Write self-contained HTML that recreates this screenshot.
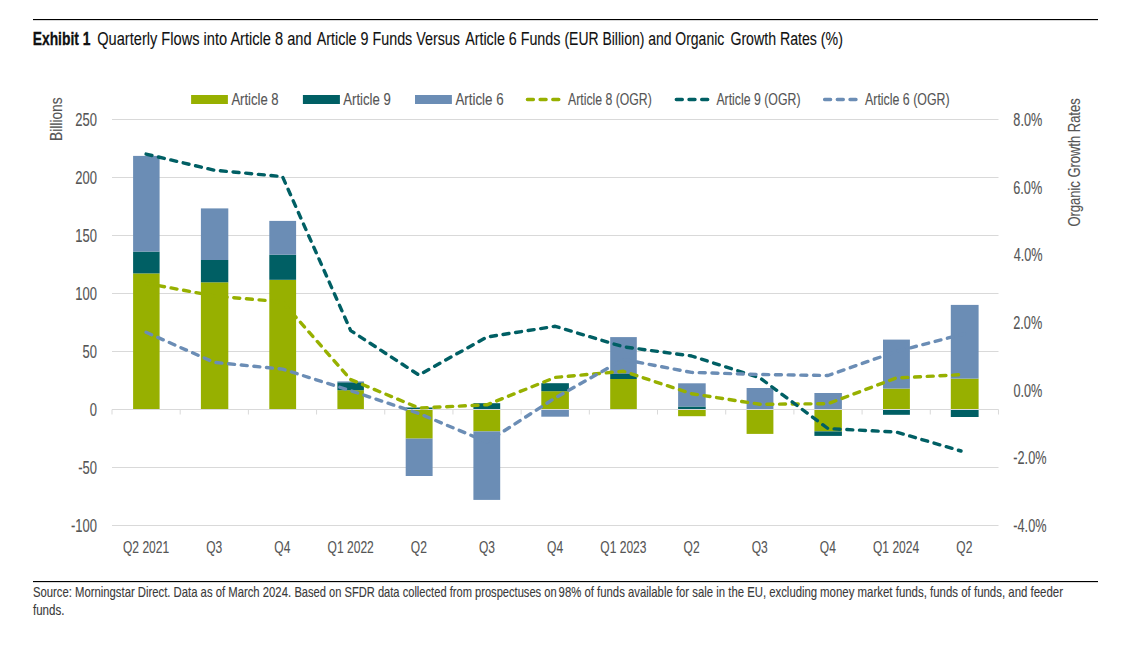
<!DOCTYPE html>
<html><head><meta charset="utf-8"><style>
html,body{margin:0;padding:0;background:#fff;width:1127px;height:645px;overflow:hidden}
svg{display:block}
text{font-family:"Liberation Sans",sans-serif}
</style></head><body>
<svg width="1127" height="645" viewBox="0 0 1127 645">
<rect width="1127" height="645" fill="#fff"/>
<rect x="33" y="19" width="1065" height="1.15" fill="#000"/>
<text x="32.70" y="44.8" font-size="18.7" fill="#111" stroke="#111" stroke-width="0.3" font-weight="bold" textLength="57.78" lengthAdjust="spacingAndGlyphs" >Exhibit 1</text>
<text x="97.24" y="44.8" font-size="18.7" fill="#111" stroke="#111" stroke-width="0.12" font-weight="normal" textLength="214.35" lengthAdjust="spacingAndGlyphs" >Quarterly Flows into Article 8 and</text>
<text x="316.80" y="44.8" font-size="18.7" fill="#111" stroke="#111" stroke-width="0.12" font-weight="normal" textLength="143.20" lengthAdjust="spacingAndGlyphs" >Article 9 Funds Versus</text>
<text x="465.20" y="44.8" font-size="18.7" fill="#111" stroke="#111" stroke-width="0.12" font-weight="normal" textLength="95.19" lengthAdjust="spacingAndGlyphs" >Article 6 Funds</text>
<text x="564.46" y="44.8" font-size="18.7" fill="#111" stroke="#111" stroke-width="0.12" font-weight="normal" textLength="159.77" lengthAdjust="spacingAndGlyphs" >(EUR Billion) and Organic</text>
<text x="730.39" y="44.8" font-size="18.7" fill="#111" stroke="#111" stroke-width="0.12" font-weight="normal" textLength="112.48" lengthAdjust="spacingAndGlyphs" >Growth Rates (%)</text>
<line x1="112" y1="119.5" x2="998.5" y2="119.5" stroke="#d9d9d9" stroke-width="1"/>
<line x1="112" y1="177.5" x2="998.5" y2="177.5" stroke="#d9d9d9" stroke-width="1"/>
<line x1="112" y1="235.5" x2="998.5" y2="235.5" stroke="#d9d9d9" stroke-width="1"/>
<line x1="112" y1="293.5" x2="998.5" y2="293.5" stroke="#d9d9d9" stroke-width="1"/>
<line x1="112" y1="351.5" x2="998.5" y2="351.5" stroke="#d9d9d9" stroke-width="1"/>
<line x1="112" y1="467.5" x2="998.5" y2="467.5" stroke="#d9d9d9" stroke-width="1"/>
<line x1="112" y1="525.5" x2="998.5" y2="525.5" stroke="#d9d9d9" stroke-width="1"/>
<text x="75.35" y="125.7" font-size="17.6" fill="#555555" stroke="#555555" stroke-width="0.12" font-weight="normal" textLength="21.65" lengthAdjust="spacingAndGlyphs" >250</text>
<text x="75.35" y="183.7" font-size="17.6" fill="#555555" stroke="#555555" stroke-width="0.12" font-weight="normal" textLength="21.65" lengthAdjust="spacingAndGlyphs" >200</text>
<text x="75.35" y="241.7" font-size="17.6" fill="#555555" stroke="#555555" stroke-width="0.12" font-weight="normal" textLength="21.65" lengthAdjust="spacingAndGlyphs" >150</text>
<text x="75.35" y="299.7" font-size="17.6" fill="#555555" stroke="#555555" stroke-width="0.12" font-weight="normal" textLength="21.65" lengthAdjust="spacingAndGlyphs" >100</text>
<text x="82.55" y="357.7" font-size="17.6" fill="#555555" stroke="#555555" stroke-width="0.12" font-weight="normal" textLength="14.43" lengthAdjust="spacingAndGlyphs" >50</text>
<text x="89.75" y="415.7" font-size="17.6" fill="#555555" stroke="#555555" stroke-width="0.12" font-weight="normal" textLength="7.22" lengthAdjust="spacingAndGlyphs" >0</text>
<text x="78.21" y="473.7" font-size="17.6" fill="#555555" stroke="#555555" stroke-width="0.12" font-weight="normal" textLength="18.75" lengthAdjust="spacingAndGlyphs" >-50</text>
<text x="71.00" y="531.7" font-size="17.6" fill="#555555" stroke="#555555" stroke-width="0.12" font-weight="normal" textLength="25.97" lengthAdjust="spacingAndGlyphs" >-100</text>
<text x="1013.33" y="125.9" font-size="17.6" fill="#555555" stroke="#555555" stroke-width="0.12" font-weight="normal" textLength="28.91" lengthAdjust="spacingAndGlyphs" >8.0%</text>
<text x="1013.27" y="193.5666666666667" font-size="17.6" fill="#555555" stroke="#555555" stroke-width="0.12" font-weight="normal" textLength="28.91" lengthAdjust="spacingAndGlyphs" >6.0%</text>
<text x="1013.65" y="261.23333333333335" font-size="17.6" fill="#555555" stroke="#555555" stroke-width="0.12" font-weight="normal" textLength="28.91" lengthAdjust="spacingAndGlyphs" >4.0%</text>
<text x="1013.27" y="328.9" font-size="17.6" fill="#555555" stroke="#555555" stroke-width="0.12" font-weight="normal" textLength="28.91" lengthAdjust="spacingAndGlyphs" >2.0%</text>
<text x="1013.39" y="396.56666666666666" font-size="17.6" fill="#555555" stroke="#555555" stroke-width="0.12" font-weight="normal" textLength="28.91" lengthAdjust="spacingAndGlyphs" >0.0%</text>
<text x="1013.33" y="464.23333333333335" font-size="17.6" fill="#555555" stroke="#555555" stroke-width="0.12" font-weight="normal" textLength="33.13" lengthAdjust="spacingAndGlyphs" >-2.0%</text>
<text x="1013.33" y="531.9" font-size="17.6" fill="#555555" stroke="#555555" stroke-width="0.12" font-weight="normal" textLength="33.13" lengthAdjust="spacingAndGlyphs" >-4.0%</text>
<text x="-1.10" y="0" font-size="17" fill="#555555" stroke="#555555" stroke-width="0.12" textLength="43.45" lengthAdjust="spacingAndGlyphs" transform="translate(62.3,139.8) rotate(-90)">Billions</text>
<text x="-0.58" y="0" font-size="17" fill="#555555" stroke="#555555" stroke-width="0.12" textLength="128.21" lengthAdjust="spacingAndGlyphs" transform="translate(1079.5,226) rotate(-90)">Organic Growth Rates</text>
<rect x="133.10" y="273.40" width="26.50" height="136.10" fill="#97b000"/>
<rect x="133.10" y="251.60" width="26.50" height="21.80" fill="#005f64"/>
<rect x="133.10" y="155.90" width="26.50" height="95.70" fill="#6b8db5"/>
<rect x="200.90" y="282.30" width="27.40" height="127.20" fill="#97b000"/>
<rect x="200.90" y="260.00" width="27.40" height="22.30" fill="#005f64"/>
<rect x="200.90" y="208.40" width="27.40" height="51.60" fill="#6b8db5"/>
<rect x="269.30" y="279.80" width="26.80" height="129.70" fill="#97b000"/>
<rect x="269.30" y="254.70" width="26.80" height="25.10" fill="#005f64"/>
<rect x="269.30" y="220.90" width="26.80" height="33.80" fill="#6b8db5"/>
<rect x="337.40" y="390.20" width="26.50" height="19.30" fill="#97b000"/>
<rect x="337.40" y="382.30" width="26.50" height="7.90" fill="#005f64"/>
<rect x="337.40" y="381.40" width="26.50" height="0.90" fill="#6b8db5"/>
<rect x="405.70" y="407.50" width="26.90" height="2.00" fill="#005f64"/>
<rect x="405.70" y="409.50" width="26.90" height="29.10" fill="#97b000"/>
<rect x="405.70" y="438.60" width="26.90" height="37.40" fill="#6b8db5"/>
<rect x="473.40" y="403.20" width="26.80" height="6.30" fill="#005f64"/>
<rect x="473.40" y="409.50" width="26.80" height="21.90" fill="#97b000"/>
<rect x="473.40" y="431.40" width="26.80" height="68.50" fill="#6b8db5"/>
<rect x="541.30" y="391.20" width="27.60" height="18.30" fill="#97b000"/>
<rect x="541.30" y="383.20" width="27.60" height="8.00" fill="#005f64"/>
<rect x="541.30" y="409.50" width="27.60" height="7.20" fill="#6b8db5"/>
<rect x="610.20" y="379.00" width="26.60" height="30.50" fill="#97b000"/>
<rect x="610.20" y="374.00" width="26.60" height="5.00" fill="#005f64"/>
<rect x="610.20" y="337.10" width="26.60" height="36.90" fill="#6b8db5"/>
<rect x="678.10" y="406.50" width="27.60" height="3.00" fill="#005f64"/>
<rect x="678.10" y="383.30" width="27.60" height="23.20" fill="#6b8db5"/>
<rect x="678.10" y="409.50" width="27.60" height="6.70" fill="#97b000"/>
<rect x="746.60" y="388.00" width="26.80" height="21.50" fill="#6b8db5"/>
<rect x="746.60" y="409.50" width="26.80" height="24.40" fill="#97b000"/>
<rect x="814.40" y="393.00" width="27.50" height="16.50" fill="#6b8db5"/>
<rect x="814.40" y="409.50" width="27.50" height="21.90" fill="#97b000"/>
<rect x="814.40" y="431.40" width="27.50" height="4.50" fill="#005f64"/>
<rect x="883.00" y="388.60" width="26.90" height="20.90" fill="#97b000"/>
<rect x="883.00" y="339.60" width="26.90" height="49.00" fill="#6b8db5"/>
<rect x="883.00" y="409.50" width="26.90" height="5.30" fill="#005f64"/>
<rect x="950.80" y="378.60" width="27.80" height="30.90" fill="#97b000"/>
<rect x="950.80" y="304.90" width="27.80" height="73.70" fill="#6b8db5"/>
<rect x="950.80" y="409.50" width="27.80" height="7.50" fill="#005f64"/>
<line x1="112" y1="409.5" x2="998.5" y2="409.5" stroke="#d9d9d9" stroke-width="1"/>
<line x1="112.00" y1="409.5" x2="112.00" y2="414.5" stroke="#d9d9d9" stroke-width="1"/>
<line x1="180.19" y1="409.5" x2="180.19" y2="414.5" stroke="#d9d9d9" stroke-width="1"/>
<line x1="248.38" y1="409.5" x2="248.38" y2="414.5" stroke="#d9d9d9" stroke-width="1"/>
<line x1="316.57" y1="409.5" x2="316.57" y2="414.5" stroke="#d9d9d9" stroke-width="1"/>
<line x1="384.76" y1="409.5" x2="384.76" y2="414.5" stroke="#d9d9d9" stroke-width="1"/>
<line x1="452.95" y1="409.5" x2="452.95" y2="414.5" stroke="#d9d9d9" stroke-width="1"/>
<line x1="521.14" y1="409.5" x2="521.14" y2="414.5" stroke="#d9d9d9" stroke-width="1"/>
<line x1="589.33" y1="409.5" x2="589.33" y2="414.5" stroke="#d9d9d9" stroke-width="1"/>
<line x1="657.52" y1="409.5" x2="657.52" y2="414.5" stroke="#d9d9d9" stroke-width="1"/>
<line x1="725.71" y1="409.5" x2="725.71" y2="414.5" stroke="#d9d9d9" stroke-width="1"/>
<line x1="793.90" y1="409.5" x2="793.90" y2="414.5" stroke="#d9d9d9" stroke-width="1"/>
<line x1="862.09" y1="409.5" x2="862.09" y2="414.5" stroke="#d9d9d9" stroke-width="1"/>
<line x1="930.28" y1="409.5" x2="930.28" y2="414.5" stroke="#d9d9d9" stroke-width="1"/>
<line x1="998.47" y1="409.5" x2="998.47" y2="414.5" stroke="#d9d9d9" stroke-width="1"/>
<polyline points="146.1,283.3 214.3,296.0 282.5,301.9 350.7,379.6 418.9,408.0 487.0,404.8 555.2,377.4 623.4,371.3 691.6,393.7 759.8,404.3 828.0,403.7 896.2,378.0 964.4,374.5" fill="none" stroke="#97b000" stroke-width="3.4" stroke-dasharray="6 6.7" stroke-linecap="round" stroke-linejoin="round"/>
<polyline points="146.1,154.1 214.3,170.2 282.5,176.6 350.7,330.6 418.9,375.0 487.0,337.0 555.2,326.3 623.4,346.8 691.6,356.0 759.8,377.8 828.0,428.6 896.2,432.0 961.0,451.0" fill="none" stroke="#005f64" stroke-width="3.4" stroke-dasharray="6 6.7" stroke-linecap="round" stroke-linejoin="round"/>
<polyline points="146.1,332.3 214.3,362.4 282.5,369.1 350.7,390.7 418.9,413.5 487.0,442.0 555.2,397.9 623.4,359.5 691.6,372.4 759.8,374.5 828.0,375.5 896.2,351.5 964.4,333.8" fill="none" stroke="#6b8db5" stroke-width="3.4" stroke-dasharray="6 6.7" stroke-linecap="round" stroke-linejoin="round"/>
<text x="123.00" y="552.8" font-size="17.2" fill="#555555" stroke="#555555" stroke-width="0.12" font-weight="normal" textLength="46.20" lengthAdjust="spacingAndGlyphs" >Q2 2021</text>
<text x="206.22" y="552.8" font-size="17.2" fill="#555555" stroke="#555555" stroke-width="0.12" font-weight="normal" textLength="16.06" lengthAdjust="spacingAndGlyphs" >Q3</text>
<text x="274.35" y="552.8" font-size="17.2" fill="#555555" stroke="#555555" stroke-width="0.12" font-weight="normal" textLength="16.06" lengthAdjust="spacingAndGlyphs" >Q4</text>
<text x="327.60" y="552.8" font-size="17.2" fill="#555555" stroke="#555555" stroke-width="0.12" font-weight="normal" textLength="46.20" lengthAdjust="spacingAndGlyphs" >Q1 2022</text>
<text x="410.85" y="552.8" font-size="17.2" fill="#555555" stroke="#555555" stroke-width="0.12" font-weight="normal" textLength="16.06" lengthAdjust="spacingAndGlyphs" >Q2</text>
<text x="478.98" y="552.8" font-size="17.2" fill="#555555" stroke="#555555" stroke-width="0.12" font-weight="normal" textLength="16.06" lengthAdjust="spacingAndGlyphs" >Q3</text>
<text x="547.11" y="552.8" font-size="17.2" fill="#555555" stroke="#555555" stroke-width="0.12" font-weight="normal" textLength="16.06" lengthAdjust="spacingAndGlyphs" >Q4</text>
<text x="600.30" y="552.8" font-size="17.2" fill="#555555" stroke="#555555" stroke-width="0.12" font-weight="normal" textLength="46.20" lengthAdjust="spacingAndGlyphs" >Q1 2023</text>
<text x="683.61" y="552.8" font-size="17.2" fill="#555555" stroke="#555555" stroke-width="0.12" font-weight="normal" textLength="16.06" lengthAdjust="spacingAndGlyphs" >Q2</text>
<text x="751.74" y="552.8" font-size="17.2" fill="#555555" stroke="#555555" stroke-width="0.12" font-weight="normal" textLength="16.06" lengthAdjust="spacingAndGlyphs" >Q3</text>
<text x="819.87" y="552.8" font-size="17.2" fill="#555555" stroke="#555555" stroke-width="0.12" font-weight="normal" textLength="16.06" lengthAdjust="spacingAndGlyphs" >Q4</text>
<text x="873.00" y="552.8" font-size="17.2" fill="#555555" stroke="#555555" stroke-width="0.12" font-weight="normal" textLength="46.20" lengthAdjust="spacingAndGlyphs" >Q1 2024</text>
<text x="956.37" y="552.8" font-size="17.2" fill="#555555" stroke="#555555" stroke-width="0.12" font-weight="normal" textLength="16.06" lengthAdjust="spacingAndGlyphs" >Q2</text>
<rect x="191.1" y="95" width="36.80000000000001" height="9" fill="#97b000"/>
<text x="231.40" y="104.6" font-size="16.8" fill="#555555" stroke="#555555" stroke-width="0.12" font-weight="normal" textLength="47.25" lengthAdjust="spacingAndGlyphs" >Article 8</text>
<rect x="302.9" y="95" width="37.0" height="9" fill="#005f64"/>
<text x="343.30" y="104.6" font-size="16.8" fill="#555555" stroke="#555555" stroke-width="0.12" font-weight="normal" textLength="47.42" lengthAdjust="spacingAndGlyphs" >Article 9</text>
<rect x="415" y="95" width="36.89999999999998" height="9" fill="#6b8db5"/>
<text x="455.40" y="104.6" font-size="16.8" fill="#555555" stroke="#555555" stroke-width="0.12" font-weight="normal" textLength="48.27" lengthAdjust="spacingAndGlyphs" >Article 6</text>
<line x1="527.4000000000001" y1="99.5" x2="559.8" y2="99.5" stroke="#97b000" stroke-width="3.4" stroke-dasharray="6 6.7" stroke-linecap="round"/>
<text x="568.00" y="104.6" font-size="16.8" fill="#555555" stroke="#555555" stroke-width="0.12" font-weight="normal" textLength="83.79" lengthAdjust="spacingAndGlyphs" >Article 8 (OGR)</text>
<line x1="676.3000000000001" y1="99.5" x2="708.0999999999999" y2="99.5" stroke="#005f64" stroke-width="3.4" stroke-dasharray="6 6.7" stroke-linecap="round"/>
<text x="716.40" y="104.6" font-size="16.8" fill="#555555" stroke="#555555" stroke-width="0.12" font-weight="normal" textLength="84.09" lengthAdjust="spacingAndGlyphs" >Article 9 (OGR)</text>
<line x1="824.6" y1="99.5" x2="856.5999999999999" y2="99.5" stroke="#6b8db5" stroke-width="3.4" stroke-dasharray="6 6.7" stroke-linecap="round"/>
<text x="865.00" y="104.6" font-size="16.8" fill="#555555" stroke="#555555" stroke-width="0.12" font-weight="normal" textLength="84.59" lengthAdjust="spacingAndGlyphs" >Article 6 (OGR)</text>
<rect x="33" y="581" width="1065" height="1.15" fill="#000"/>
<text x="32.99" y="596.6" font-size="14.8" fill="#3a3a3a" stroke="#3a3a3a" stroke-width="0.12" font-weight="normal" textLength="258.07" lengthAdjust="spacingAndGlyphs" >Source: Morningstar Direct. Data as of March 2024.</text>
<text x="294.41" y="596.6" font-size="14.8" fill="#3a3a3a" stroke="#3a3a3a" stroke-width="0.12" font-weight="normal" textLength="262.25" lengthAdjust="spacingAndGlyphs" >Based on SFDR data collected from prospectuses on</text>
<text x="558.59" y="596.6" font-size="14.8" fill="#3a3a3a" stroke="#3a3a3a" stroke-width="0.12" font-weight="normal" textLength="258.57" lengthAdjust="spacingAndGlyphs" >98% of funds available for sale in the EU, excluding</text>
<text x="820.06" y="596.6" font-size="14.8" fill="#3a3a3a" stroke="#3a3a3a" stroke-width="0.12" font-weight="normal" textLength="242.97" lengthAdjust="spacingAndGlyphs" >money market funds, funds of funds, and feeder</text>
<text x="33.03" y="614.7" font-size="14.8" fill="#3a3a3a" stroke="#3a3a3a" stroke-width="0.12" font-weight="normal" textLength="31.36" lengthAdjust="spacingAndGlyphs" >funds.</text>
</svg>
</body></html>
